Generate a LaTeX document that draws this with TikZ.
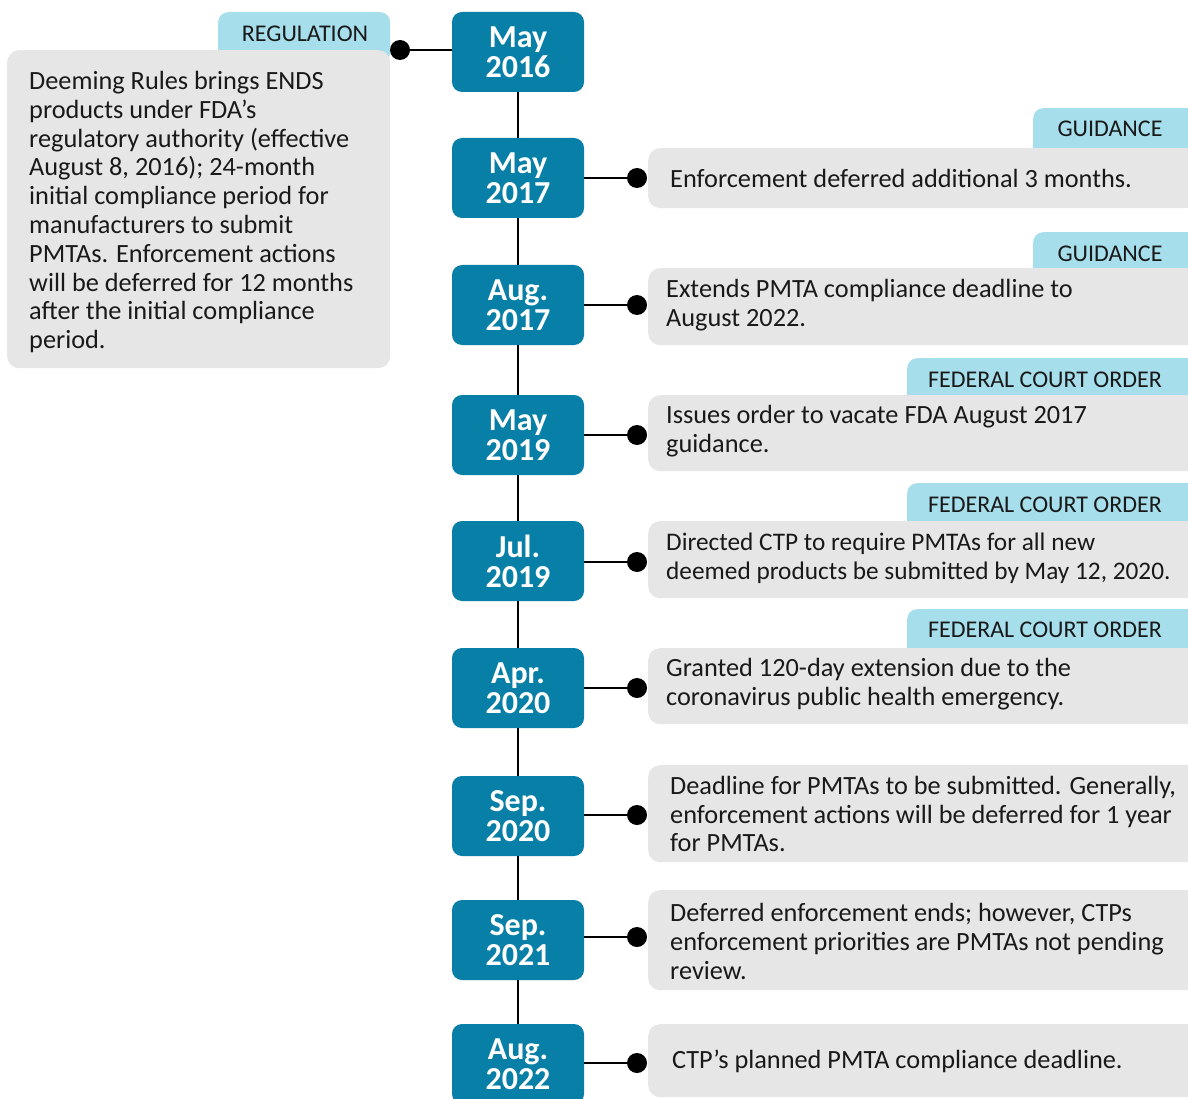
\documentclass[tikz,border=0pt]{standalone}
\usepackage{fontspec}
\setmainfont{Carlito}
\definecolor{teal}{RGB}{8,127,166}
\definecolor{tagblue}{RGB}{166,222,235}
\definecolor{boxgray}{RGB}{230,230,230}
\definecolor{ink}{RGB}{25,25,25}
\begin{document}
\begin{tikzpicture}[x=1pt,y=-1pt,
  datebox/.style={rectangle, rounded corners=10pt, fill=teal, text=white,
    font=\bfseries\fontsize{32}{30}\selectfont, minimum width=132pt,
    minimum height=80pt, align=center, inner sep=0pt},
  evdot/.style={circle, fill=black, minimum size=20pt, inner sep=0pt},
  infobox/.style={rectangle, rounded corners=12pt, fill=boxgray, inner sep=0pt, anchor=north west},
  tagbox/.style={rectangle, rounded corners=10pt, fill=tagblue, inner sep=0pt, anchor=north west},
  tagtext/.style={font=\fontsize{24}{26}\selectfont, text=ink, inner sep=0pt},
  bodytext/.style={font=\fontsize{26.3}{28.8}\selectfont, text=ink, align=left, inner sep=0pt, anchor=west},
  link/.style={line width=2.4pt, black}
]
\useasboundingbox (0,0) rectangle (1188,1099);
\clip (0,0) rectangle (1188,1099);
\fill[white] (0,0) rectangle (1188,1099);

% timeline date boxes
\node[datebox] (d1) at (518,52) {May\\2016};
\node[datebox] (d2) at (518,178) {May\\2017};
\node[datebox] (d3) at (518,305) {Aug.\\2017};
\node[datebox] (d4) at (518,435) {May\\2019};
\node[datebox] (d5) at (518,561) {Jul.\\2019};
\node[datebox] (d6) at (518,688) {Apr.\\2020};
\node[datebox] (d7) at (518,816) {Sep.\\2020};
\node[datebox] (d8) at (518,940) {Sep.\\2021};
\node[datebox] (d9) at (518,1064) {Aug.\\2022};

\foreach \a/\b in {d1/d2,d2/d3,d3/d4,d4/d5,d5/d6,d6/d7,d7/d8,d8/d9}
  \draw[link] (\a.south) -- (\b.north);

% left regulation card
\node[tagbox, minimum width=172pt, minimum height=50pt] (regtag) at (218,12) {};
\node[tagtext] (regtxt) at (305,34) {REGULATION};
\node[infobox, minimum width=383pt, minimum height=318pt] (regbox) at (7,50) {};
\node[bodytext] (regbody) at (29,212) {Deeming Rules brings ENDS\\products under FDA’s\\regulatory authority (effective\\August 8, 2016); 24-month\\initial compliance period for\\manufacturers to submit\\PMTAs. Enforcement actions\\will be deferred for 12 months\\after the initial compliance\\period.};
\node[evdot] (p1) at (400,50) {};
\draw[link] (p1) -- (p1 -| d1.west);

% right cards: tags
\node[tagbox, minimum width=175pt, minimum height=50pt] (g1) at (1033,108) {};
\node[tagtext] (g1t) at (1110,129) {GUIDANCE};
\node[tagbox, minimum width=175pt, minimum height=50pt] (g2) at (1033,232) {};
\node[tagtext] (g2t) at (1110,254) {GUIDANCE};
\node[tagbox, minimum width=300pt, minimum height=50pt] (f1) at (907,358) {};
\node[tagtext] (f1t) at (1045,380) {FEDERAL COURT ORDER};
\node[tagbox, minimum width=300pt, minimum height=50pt] (f2) at (907,483) {};
\node[tagtext] (f2t) at (1045,505) {FEDERAL COURT ORDER};
\node[tagbox, minimum width=300pt, minimum height=50pt] (f3) at (907,609) {};
\node[tagtext] (f3t) at (1045,630) {FEDERAL COURT ORDER};

% right cards: boxes
\node[infobox, minimum width=560pt, minimum height=60pt] (b2) at (648,148) {};
\node[infobox, minimum width=560pt, minimum height=77pt] (b3) at (648,268) {};
\node[infobox, minimum width=560pt, minimum height=76pt] (b4) at (648,395) {};
\node[infobox, minimum width=560pt, minimum height=77pt] (b5) at (648,521) {};
\node[infobox, minimum width=560pt, minimum height=76pt] (b6) at (648,648) {};
\node[infobox, minimum width=560pt, minimum height=97pt] (b7) at (648,765) {};
\node[infobox, minimum width=560pt, minimum height=100pt] (b8) at (648,890) {};
\node[infobox, minimum width=560pt, minimum height=73pt] (b9) at (648,1024) {};

\node[bodytext] (t2) at (670,178) {Enforcement deferred additional 3 months.};
\node[bodytext] (t3) at (666,305.5) {Extends PMTA compliance deadline to\\August 2022.};
\node[bodytext] (t4) at (666,431.5) {Issues order to vacate FDA August 2017\\guidance.};
\node[bodytext, font=\fontsize{25.3}{28.8}\selectfont] (t5) at (666,558.5) {Directed CTP to require PMTAs for all new\\deemed products be submitted by May 12, 2020.};
\node[bodytext] (t6) at (666,684.5) {Granted 120-day extension due to the\\coronavirus public health emergency.};
\node[bodytext] (t7) at (670,814) {Deadline for PMTAs to be submitted. Generally,\\enforcement actions will be deferred for 1 year\\for PMTAs.};
\node[bodytext] (t8) at (670,941.5) {Deferred enforcement ends; however, CTPs\\enforcement priorities are PMTAs not pending\\review.};
\node[bodytext] (t9) at (672,1061) {CTP’s planned PMTA compliance deadline.};

% connectors and dots
\node[evdot] (p2) at (637,178) {};
\node[evdot] (p3) at (637,305) {};
\node[evdot] (p4) at (637,435) {};
\node[evdot] (p5) at (637,562) {};
\node[evdot] (p6) at (637,688) {};
\node[evdot] (p7) at (637,815) {};
\node[evdot] (p8) at (637,937) {};
\node[evdot] (p9) at (637,1063) {};
\foreach \i in {2,...,9}
  \draw[link] (d\i.east |- p\i) -- (p\i);
\end{tikzpicture}
\end{document}
